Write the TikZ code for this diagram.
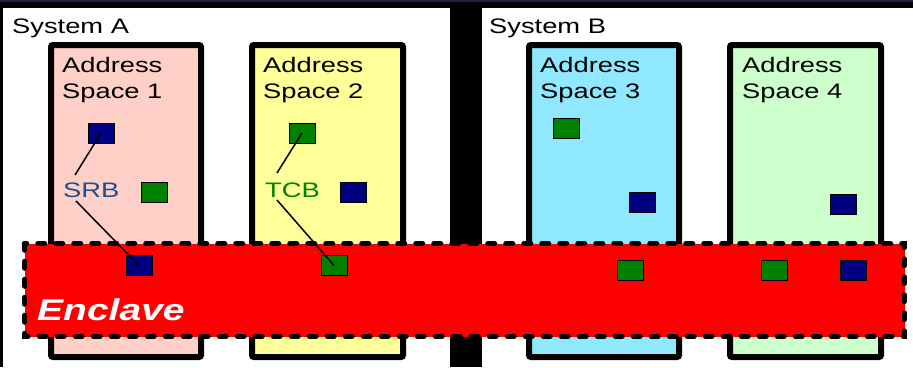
\documentclass[tikz,border=0pt]{standalone}
\usepackage{fontspec}
\newfontfamily\widefont{Liberation Sans}[FakeStretch=1.3]
\definecolor{topnavy}{HTML}{1C2540}
\definecolor{aspink}{HTML}{FFD0C8}
\definecolor{asyellow}{HTML}{FFFF99}
\definecolor{asblue}{HTML}{90E8FF}
\definecolor{asgreen}{HTML}{CCFFCC}
\definecolor{blkblue}{HTML}{000080}
\definecolor{blkgreen}{HTML}{008000}
\definecolor{srbblue}{HTML}{1F4E8C}

\begin{document}
\begin{tikzpicture}[x=1pt,y=-1pt,
  space/.style={draw=black,line width=6pt,rounded corners=2pt},
  blockbox/.style={draw=black,line width=0.8pt,minimum width=26pt,minimum height=20pt,inner sep=0pt},
  srbblock/.style={blockbox,fill=blkblue},
  tcbblock/.style={blockbox,fill=blkgreen},
  lbl/.style={font=\widefont\fontsize{21}{26}\selectfont,inner sep=0pt,anchor=north west,align=left}]
  \useasboundingbox (0,0) rectangle (913,367);
  \fill[black] (0,0) rectangle (913,367);
  \fill[topnavy] (0,0) rectangle (913,2);
  \fill[white] (3,8) rectangle (450,367);
  \fill[white] (482,8) rectangle (913,367);

  \node[lbl] (sysa) at (12,18.5) {System A};
  \node[lbl] (sysb) at (489,18.5) {System B};

  \draw[space,fill=aspink]   (51,45) rectangle (201,357);
  \draw[space,fill=asyellow] (252,45) rectangle (403,357);
  \draw[space,fill=asblue]   (529,45) rectangle (679,357);
  \draw[space,fill=asgreen]  (730,45) rectangle (881,357);

  \node[lbl] (as1) at (62,57.5) {Address\\Space 1};
  \node[lbl] (as2) at (263,57.5) {Address\\Space 2};
  \node[lbl] (as3) at (540,57.5) {Address\\Space 3};
  \node[lbl] (as4) at (742,57.5) {Address\\Space 4};

  \draw[fill=red,line width=5.5pt,dash pattern=on 6.5pt off 11.5pt,line cap=round]
    (24.5,243.5) rectangle (904.5,336.5);

  \node[srbblock] (b1a) at (101,133) {};
  \node[tcbblock] (b1b) at (154.5,192) {};
  \node[srbblock] (b1e) at (139,265.5) {};
  \node[tcbblock] (b2a) at (302,133) {};
  \node[srbblock] (b2b) at (353,192) {};
  \node[tcbblock] (b2e) at (334,265.5) {};
  \node[tcbblock] (b3a) at (566.5,128) {};
  \node[srbblock] (b3b) at (642,202) {};
  \node[tcbblock] (b3e) at (630,270) {};
  \node[srbblock] (b4b) at (843,204) {};
  \node[tcbblock] (b4e) at (774.5,270) {};
  \node[srbblock] (b4f) at (853,270) {};

  \node[lbl,text=srbblue] (srb) at (63,183) {SRB};
  \node[lbl,text=blkgreen] (tcb) at (265,183) {TCB};
  \coordinate (srbtop) at (75,175);
  \coordinate (srbbot) at (76,201);
  \coordinate (tcbtop) at (277,173);
  \coordinate (tcbbot) at (277,200);
  \draw[line width=1.5pt] (b1a.center) -- (srbtop);
  \draw[line width=1.5pt] (srbbot) -- (b1e.center);
  \draw[line width=1.5pt] (b2a.center) -- (tcbtop);
  \draw[line width=1.5pt] (tcbbot) -- (b2e.center);

  \node[lbl,font=\widefont\fontsize{30}{35}\selectfont\bfseries\itshape,text=white] (encl) at (37,298.5) {Enclave};
\end{tikzpicture}
\end{document}
